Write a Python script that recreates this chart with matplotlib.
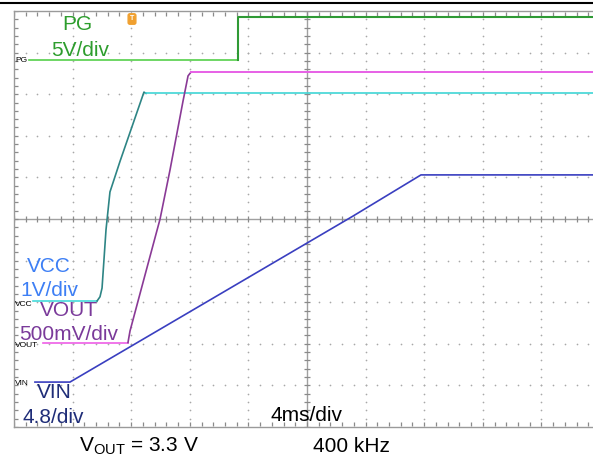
import numpy as np
import matplotlib
matplotlib.use("Agg")
import matplotlib.pyplot as plt
from matplotlib.lines import Line2D

plt.rcParams['font.family'] = ['Liberation Sans', 'DejaVu Sans']

# ----------------- data (time in ms, level in divisions) -----------------
pg_low_t = [1.02, 15.29]
pg_low_v = [8.82, 8.82]
pg_high_t = [15.29, 15.29, 40.5]
pg_high_v = [8.82, 9.85, 9.85]

vcc_flat0_t = [1.30, 5.67]
vcc_flat0_v = [3.03, 3.03]
vcc_ramp_t = [5.67, 5.87, 6.01, 6.28, 6.55, 7.24, 8.87, 9.01]
vcc_ramp_v = [3.03, 3.13, 3.34, 4.74, 5.65, 6.39, 8.05, 8.02]
vcc_flat1_t = [9.01, 40.5]
vcc_flat1_v = [8.02, 8.02]

vout_flat0_t = [1.98, 7.78]
vout_flat0_v = [2.03, 2.03]
vout_ramp_t = [7.78, 7.92, 8.94, 9.97, 10.65, 11.54, 11.88, 12.08]
vout_ramp_v = [2.03, 2.31, 3.65, 5.00, 6.18, 7.84, 8.44, 8.53]
vout_flat1_t = [12.08, 40.5]
vout_flat1_v = [8.53, 8.53]

vin_t = [1.43, 3.82, 23.14, 27.78, 40.5]
vin_v = [1.08, 1.08, 5.07, 6.06, 6.06]

W, H = 593, 461
fig = plt.figure(figsize=(W / 100, H / 100), dpi=100)
ax = fig.add_axes([14 / W, (H - 427) / H, 586 / W, 416 / H])
ax.set_xlim(0, 40)
ax.set_ylim(0, 10)
ax.set_xticks([])
ax.set_yticks([])
for s in ax.spines.values():
    s.set_color('#9a9a9a')
    s.set_linewidth(1.0)
ax.spines['right'].set_visible(False)

# dotted graticule
dot_c = '#a8a8a8'
for gx in [4, 8, 12, 16, 24, 28, 32, 36]:
    ys = np.arange(0, 10.01, 0.2)
    ax.scatter(np.full_like(ys, gx), ys, s=1.5, c=dot_c, linewidths=0, zorder=1)
for gy in [1, 2, 3, 4, 6, 7, 8, 9]:
    xs = np.arange(0, 40.01, 0.8)
    ax.scatter(xs, np.full_like(xs, gy), s=1.5, c=dot_c, linewidths=0, zorder=1)

# centre cross with ticks
ax.axhline(5, color='#a0a0a0', lw=1.0, zorder=1)
ax.axvline(20, color='#a0a0a0', lw=1.0, zorder=1)
tx = np.arange(0, 40.01, 0.8)
ty = np.arange(0, 10.01, 0.2)
ax.plot(tx, np.full_like(tx, 5), ls='none', marker='|', ms=4.5, color='#8a8a8a', mew=0.9, zorder=1)
ax.plot(np.full_like(ty, 20), ty, ls='none', marker='_', ms=4.5, color='#8a8a8a', mew=0.9, zorder=1)
# edge ticks
ax.plot(np.full_like(ty, 0.12), ty, ls='none', marker='_', ms=3, color='#8a8a8a', mew=0.9, zorder=1)
ax.plot(tx, np.full_like(tx, 0.08), ls='none', marker='|', ms=3, color='#8a8a8a', mew=0.9, zorder=1)
ax.plot(tx, np.full_like(tx, 9.92), ls='none', marker='|', ms=3, color='#8a8a8a', mew=0.9, zorder=1)

# traces
lw = 1.2
ax.plot(pg_low_t, pg_low_v, color='#55d04a', lw=lw, zorder=3)
ax.plot(pg_high_t, pg_high_v, color='#2f9a35', lw=lw + 0.3, zorder=3)
ax.plot(vcc_flat0_t, vcc_flat0_v, color='#45dada', lw=lw, zorder=3)
ax.plot(vcc_ramp_t, vcc_ramp_v, color='#2e8585', lw=lw, zorder=3)
ax.plot(vcc_flat1_t, vcc_flat1_v, color='#3fd6d6', lw=lw, zorder=3)
ax.plot(vout_flat0_t, vout_flat0_v, color='#ee5fe6', lw=lw, zorder=3)
ax.plot(vout_ramp_t, vout_ramp_v, color='#8a3a96', lw=lw, zorder=3)
ax.plot(vout_flat1_t, vout_flat1_v, color='#e760e6', lw=lw + 0.2, zorder=3)
ax.plot(vin_t, vin_v, color='#3a3fc0', lw=lw, zorder=3)


def fp(x, y):
    return x / W, 1 - y / H


fs = 15
fig.text(*fp(77, 24), 'PG', color='#2d9d2d', fontsize=fs, ha='center', va='center')
fig.text(*fp(80, 50), '5V/div', color='#2d9d2d', fontsize=fs, ha='center', va='center')
fig.text(*fp(49, 266), 'VCC', color='#3d7ff5', fontsize=fs, ha='center', va='center')
fig.text(*fp(49, 290), '1V/div', color='#3d7ff5', fontsize=fs, ha='center', va='center')
fig.text(*fp(69, 310), 'VOUT', color='#7a3a9a', fontsize=fs, ha='center', va='center')
fig.text(*fp(69, 334), '500mV/div', color='#7a3a9a', fontsize=fs, ha='center', va='center')
fig.text(*fp(54, 393), 'VIN', color='#1f2d78', fontsize=fs, ha='center', va='center')
fig.text(*fp(53, 417), '4.8/div', color='#1f2d78', fontsize=fs, ha='center', va='center')
fig.text(*fp(306, 415), '4ms/div', color='black', fontsize=fs, ha='center', va='center')
fig.text(*fp(139, 446), r'V$_{\mathregular{OUT}}$ = 3.3 V', color='black', fontsize=fs,
         ha='center', va='center')
fig.text(*fp(351, 446), '400 kHz', color='black', fontsize=fs, ha='center', va='center')

# channel markers
sm = 6
fig.text(*fp(15, 60), 'PG', color='black', fontsize=sm, ha='left', va='center')
fig.text(*fp(15, 304), 'VCC', color='black', fontsize=sm, ha='left', va='center')
fig.text(*fp(15, 345), 'VOUT', color='black', fontsize=sm, ha='left', va='center')
fig.text(*fp(15, 383), 'VIN', color='black', fontsize=sm, ha='left', va='center')

# trigger marker
fig.text(*fp(132, 19), 'T', color='white', fontsize=5, ha='center', va='center',
         fontweight='bold',
         bbox=dict(boxstyle='round,pad=0.25', fc='#f0a030', ec='#f0a030'))

# top border line
fig.add_artist(Line2D([0, 1], [1 - 3.3 / H] * 2, color='black', lw=1.5))

fig.savefig('out.png', dpi=100)
